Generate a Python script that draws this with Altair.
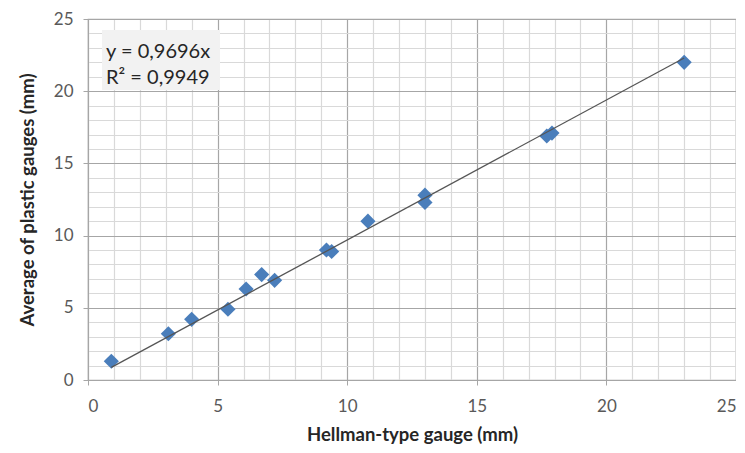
import altair as alt
import pandas as pd

hellman = [0.9, 3.1, 4.0, 5.4, 6.1, 6.7, 7.2, 9.2, 9.4, 10.8, 13.0, 13.0, 17.7, 17.9, 23.0]
plastic = [1.3, 3.2, 4.2, 4.9, 6.3, 7.3, 6.9, 9.0, 8.9, 11.0, 12.8, 12.3, 16.9, 17.1, 22.0]
slope = 0.9696
eq_text = "y = 0,9696x\nR² = 0,9949"
ticks = list(range(0, 26))

pts = pd.DataFrame({"x": hellman, "y": plastic})
trend = pd.DataFrame({"x": [min(hellman), max(hellman)]})

FONT = "Lato"
major = "datum.value % 5 === 0"

def axis(title, **kw):
    return alt.Axis(
        title=title,
        values=ticks,
        labelExpr="datum.value % 5 === 0 ? datum.label : ''",
        gridColor=alt.condition(major, alt.value("#a6a6a6"), alt.value("#d9d9d9")),
        gridWidth=1.2,
        tickColor=alt.condition(major, alt.value("#a6a6a6"), alt.value("transparent")),
        tickSize=5,
        domainColor="#a6a6a6",
        labelColor="#595959",
        labelFontSize=17,
        labelFont=FONT,
        titleFont=FONT,
        titleFontSize=18.5,
        titleFontWeight="bold",
        titleColor="#262626",
        **kw,
    )

xs = alt.Scale(domain=[0, 25], nice=False)
ys = alt.Scale(domain=[0, 25], nice=False)
x_enc = alt.X("x:Q", scale=xs, axis=axis("Hellman-type gauge (mm)", labelPadding=13, titlePadding=11))
y_enc = alt.Y("y:Q", scale=ys, axis=axis("Average of plastic gauges (mm)", labelPadding=10, titlePadding=16))

points = alt.Chart(pts).mark_point(
    shape="diamond", filled=True, size=230, color="#4a7ebb", opacity=1
).encode(x=x_enc, y=y_enc)

line = alt.Chart(trend).transform_calculate(
    y=f"{slope} * datum.x"
).mark_line(color="#555555", strokeWidth=1.3).encode(x=x_enc, y=y_enc)

box = alt.Chart(pd.DataFrame({"t": [0]})).mark_rect(color="#f2f2f2").encode(
    x=alt.value(14), x2=alt.value(132), y=alt.value(11), y2=alt.value(71)
)

labels = alt.Chart(pd.DataFrame({"t": [eq_text]})).mark_text(
    align="left", baseline="alphabetic", font=FONT, fontSize=20, color="#262626",
    lineBreak="\n", lineHeight=26,
).encode(
    x=alt.value(18),
    y=alt.value(39),
    text="t:N",
)

chart = alt.layer(points, line, box, labels).properties(
    width=648, height=361,
    autosize=alt.AutoSizeParams(type="none"),
    padding={"left": 80, "top": 11, "right": 0, "bottom": 70},
).configure_view(stroke="#a6a6a6", strokeWidth=1.2)

chart.save("out.html", embed_options={"renderer": "svg", "actions": False})
